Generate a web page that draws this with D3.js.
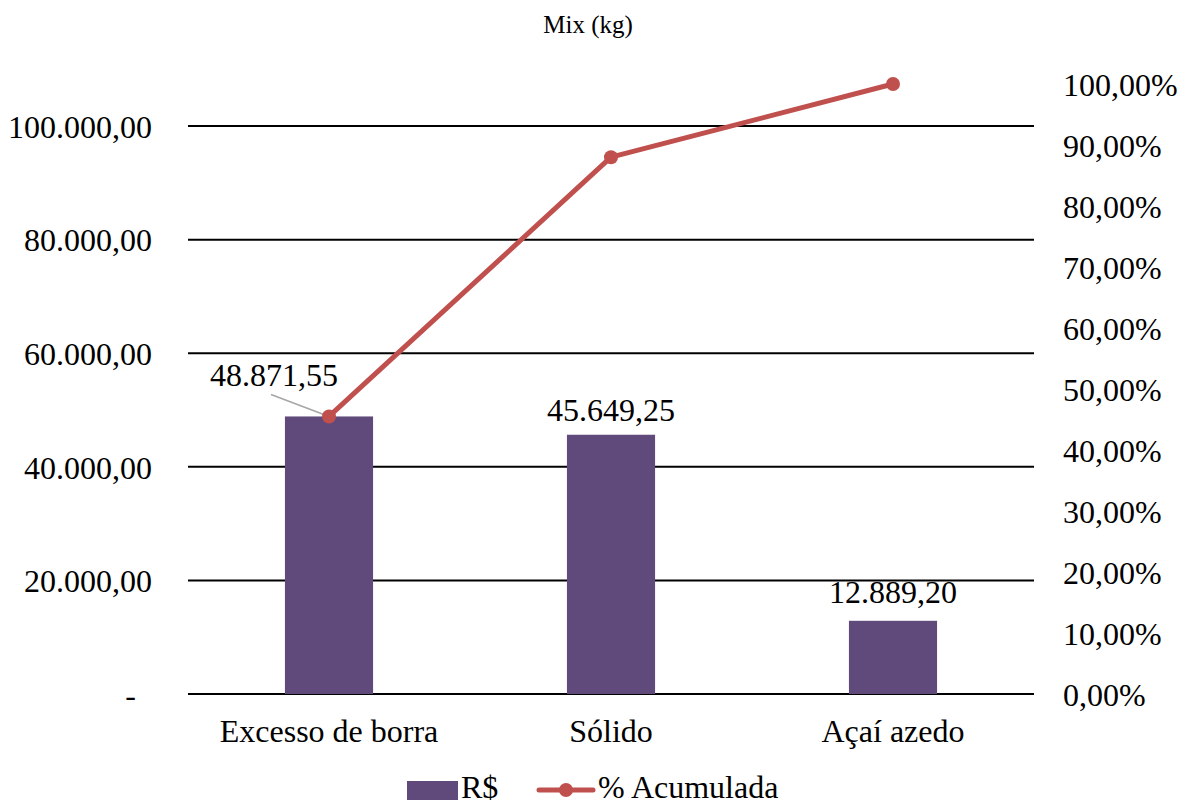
<!DOCTYPE html>
<html>
<head>
<meta charset="utf-8">
<script src="https://cdn.jsdelivr.net/npm/d3@7"></script>
<style>
  html, body { margin: 0; padding: 0; background: #fff; }
</style>
</head>
<body>
<svg id="chart" width="1189" height="805"></svg>
<script>
// Pareto data: loss by cause
const categories = ["Excesso de borra", "Sólido", "Açaí azedo"];
const values = [48871.55, 45649.25, 12889.20];
const leftTicks = [0, 20000, 40000, 60000, 80000, 100000];
const rightTicks = [0, 0.1, 0.2, 0.3, 0.4, 0.5, 0.6, 0.7, 0.8, 0.9, 1.0];

const total = d3.sum(values);
const cumulative = d3.cumsum(values).map(v => v / total);

const FONT = "'Liberation Serif', 'Times New Roman', serif";
const FS = "32px";

const svg = d3.select("#chart");
const plot = { left: 188, right: 1034, top: 84, bottom: 694 };

const x = d3.scaleBand().domain(categories).range([plot.left, plot.right]).paddingInner(0.6875).paddingOuter(0.34375);
const yL = d3.scaleLinear().domain([0, total]).range([plot.bottom, plot.top]);
const yR = d3.scaleLinear().domain([0, 1]).range([plot.bottom, plot.top]);

const fmtNum = v => v === 0 ? "-" : d3.format(",.2f")(v).replace(/,/g, "#").replace(/\./g, ",").replace(/#/g, ".");
const fmtPct = v => d3.format(".2f")(v * 100).replace(".", ",") + "%";

function styleText(sel, size) {
  sel.style("font-family", FONT).style("font-size", size).attr("fill", "#000");
}

// gridlines
svg.append("g")
  .selectAll("line")
  .data(leftTicks)
  .join("line")
  .attr("x1", plot.left).attr("x2", plot.right)
  .attr("y1", d => yL(d)).attr("y2", d => yL(d))
  .attr("stroke", "#000").attr("stroke-width", 2);

// left axis
const gL = svg.append("g").attr("transform", `translate(${plot.left},0)`)
  .call(d3.axisLeft(yL).tickValues(leftTicks).tickFormat(fmtNum).tickSize(0).tickPadding(36));
gL.select(".domain").remove();
gL.selectAll("text").call(styleText, FS).attr("dy", "0.35em")
  .filter(d => d === 0).attr("dx", -16);

// right axis
const gR = svg.append("g").attr("transform", `translate(${plot.right},0)`)
  .call(d3.axisRight(yR).tickValues(rightTicks).tickFormat(fmtPct).tickSize(0).tickPadding(29));
gR.select(".domain").remove();
gR.selectAll("text").call(styleText, FS).attr("dy", "0.35em");

// category axis
const gX = svg.append("g").attr("transform", `translate(0,${plot.bottom})`)
  .call(d3.axisBottom(x).tickSize(0).tickPadding(25));
gX.select(".domain").remove();
gX.selectAll("text").call(styleText, FS).attr("dy", "0.71em");

// bars
svg.append("g")
  .selectAll("rect")
  .data(values)
  .join("rect")
  .attr("x", (d, i) => x(categories[i]))
  .attr("width", x.bandwidth())
  .attr("y", d => yL(d))
  .attr("height", d => yL(0) - yL(d))
  .attr("fill", "#604a7b");

// data labels
const labelPos = [
  { dx: -55, dy: -30 },
  { dx: 0, dy: -14 },
  { dx: 0, dy: -18 }
];
// leader line for the first label
svg.append("line")
  .attr("x1", x(categories[0]) + x.bandwidth() / 2 - 58)
  .attr("y1", yL(values[0]) - 22)
  .attr("x2", x(categories[0]) + x.bandwidth() / 2)
  .attr("y2", yL(values[0]))
  .attr("stroke", "#a6a6a6").attr("stroke-width", 1.5);

svg.append("g")
  .selectAll("text")
  .data(values)
  .join("text")
  .attr("x", (d, i) => x(categories[i]) + x.bandwidth() / 2 + labelPos[i].dx)
  .attr("y", (d, i) => yL(d) + labelPos[i].dy)
  .attr("text-anchor", "middle")
  .call(styleText, FS)
  .text(fmtNum);

// cumulative line
const line = d3.line()
  .x((d, i) => x(categories[i]) + x.bandwidth() / 2)
  .y(d => yR(d));
svg.append("path")
  .datum(cumulative)
  .attr("d", line)
  .attr("fill", "none")
  .attr("stroke", "#c0504d")
  .attr("stroke-width", 5)
  .attr("stroke-linejoin", "round");
svg.append("g")
  .selectAll("circle")
  .data(cumulative)
  .join("circle")
  .attr("cx", (d, i) => x(categories[i]) + x.bandwidth() / 2)
  .attr("cy", d => yR(d))
  .attr("r", 7)
  .attr("fill", "#c0504d");

// title
svg.append("text")
  .attr("x", 588).attr("y", 33)
  .attr("text-anchor", "middle")
  .call(styleText, "25px")
  .text("Mix (kg)");

// legend
const legend = svg.append("g");
legend.append("rect").attr("x", 407).attr("y", 781).attr("width", 51).attr("height", 19).attr("fill", "#604a7b");
legend.append("text").attr("x", 461).attr("y", 798).call(styleText, FS).text("R$");
legend.append("line").attr("x1", 539).attr("x2", 593).attr("y1", 790).attr("y2", 790)
  .attr("stroke", "#c0504d").attr("stroke-width", 5).attr("stroke-linecap", "round");
legend.append("circle").attr("cx", 566).attr("cy", 790).attr("r", 7).attr("fill", "#c0504d");
legend.append("text").attr("x", 598).attr("y", 798).call(styleText, FS).text("% Acumulada");
</script>
</body>
</html>
